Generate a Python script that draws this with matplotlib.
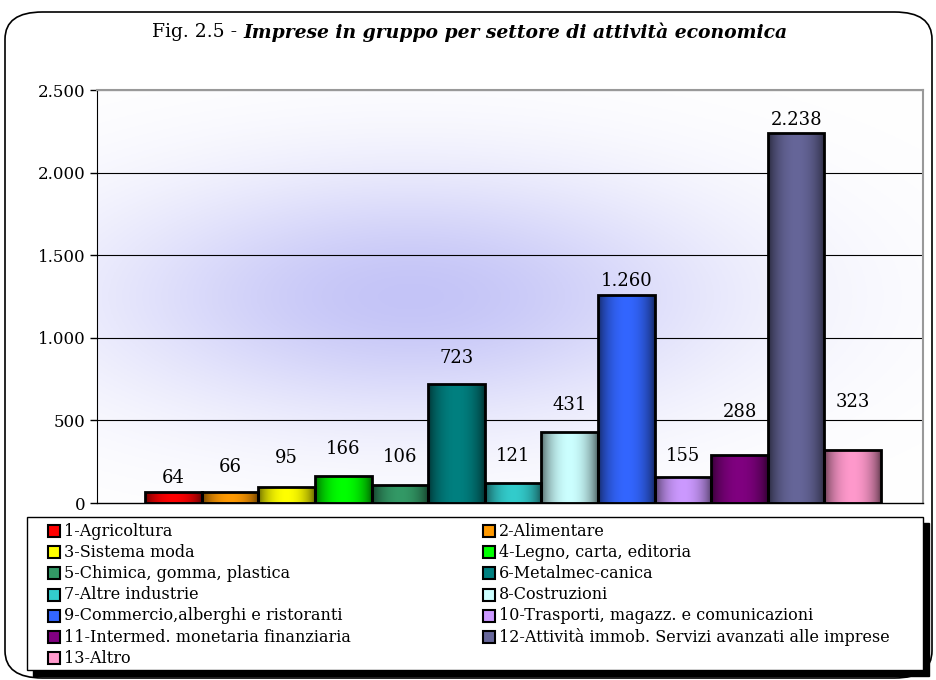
import numpy as np
import matplotlib
matplotlib.use("Agg")
from matplotlib import pyplot as plt
from matplotlib.patches import Rectangle, FancyBboxPatch

sectors = ['1-Agricoltura', '2-Alimentare', '3-Sistema moda', '4-Legno, carta, editoria',
           '5-Chimica, gomma, plastica', '6-Metalmec-canica', '7-Altre industrie',
           '8-Costruzioni', '9-Commercio,alberghi e ristoranti',
           '10-Trasporti, magazz. e comunicazioni', '11-Intermed. monetaria finanziaria',
           '12-Attività immob. Servizi avanzati alle imprese', '13-Altro']
values = [64, 66, 95, 166, 106, 723, 121, 431, 1260, 155, 288, 2238, 323]
colors = ['#FF0000', '#FF9900', '#FFFF00', '#00FF00', '#339966', '#008080', '#33CCCC',
          '#CCFFFF', '#3366FF', '#CC99FF', '#800080', '#666699', '#FF99CC']
yticks = [0, 500, 1000, 1500, 2000, 2500]
# label offset above bar top (pixels), as excel put them
lab_off = [14, 25, 29, 27, 28, 26, 27, 27, 14, 21, 43, 13, 48]

plt.rcParams['font.family'] = ['DejaVu Serif']

W, H = 936, 680
fig = plt.figure(figsize=(9.36, 6.8), dpi=100)
ax = fig.add_axes([97/W, 1-503/H, 826/W, 413/H])

def fx(px):
    return px/W

def fy(py):
    return 1 - py/H

# rounded frame around everything
frame = FancyBboxPatch((fx(5), fy(678)), fx(927), 666/H, boxstyle="round,pad=0,rounding_size=0.04",
                       transform=fig.transFigure, fill=False, edgecolor='black', lw=1.2)
fig.patches.append(frame)

# title: plain part + bold italic part, centred together
t1 = fig.text(0, fy(32), 'Fig. 2.5 - ', ha='left', va='center', fontsize=13.5)
t2 = fig.text(0, fy(32), 'Imprese in gruppo per settore di attività economica', ha='left',
              va='center', fontsize=13.5, fontweight='bold', style='italic')
r = fig.canvas.get_renderer()
w1 = t1.get_window_extent(r).width
w2 = t2.get_window_extent(r).width
x0 = 470 - (w1 + w2)/2
t1.set_x(fx(x0))
t2.set_x(fx(x0 + w1))

x = np.arange(len(values))
xl = (-1.35, 13.24)

# background glow
gx, gy = np.meshgrid(np.linspace(0, 1, 300), np.linspace(0, 1, 200))
g = np.exp(-((gx-0.38)/0.38)**2 - ((gy-0.5)/0.3)**2)
bg = np.ones((200, 300, 3))
bg[..., 0] = 1 - g*0.23
bg[..., 1] = 1 - g*0.23
bg[..., 2] = 1 - g*0.03
ax.imshow(bg, extent=(xl[0], xl[1], 0, 2500), origin='lower', aspect='auto', zorder=0)

for v in yticks[1:]:
    ax.axhline(v, color='black', lw=0.8, zorder=1)

t = np.linspace(0, 1, 60)
prof = 0.35 + 0.65*np.sin(np.pi*t)**0.6
for i, v in enumerate(values):
    c = np.array(matplotlib.colors.to_rgb(colors[i]))
    grad = (prof[:, None]*c[None, :])[None, :, :]
    im = ax.imshow(grad, extent=(i-0.5, i+0.5, 0, v), aspect='auto', zorder=2)
    rect = Rectangle((i-0.5, 0), 1, v, fill=False, edgecolor='black', lw=2, zorder=3)
    ax.add_patch(rect)
    im.set_clip_path(rect)
    ax.annotate(f'{v:,}'.replace(',', '.'), (i, v), xytext=(0, lab_off[i]/1.389),
                textcoords='offset points', ha='center', va='center', fontsize=13, zorder=4)

ax.set_xlim(*xl)
ax.set_ylim(0, 2500)
ax.set_xticks([])
ax.set_yticks(yticks)
ax.set_yticklabels([f'{v:,}'.replace(',', '.') for v in yticks], fontsize=12)
ax.tick_params(axis='y', direction='out', length=5, width=1)
for s in ['top', 'right']:
    ax.spines[s].set_color('#999999')
    ax.spines[s].set_linewidth(1.5)
ax.spines['bottom'].set_visible(False)
ax.axhline(0, color='black', lw=1, zorder=5, clip_on=False)

# legend box, drawn by hand (two columns, rows read across)
lx0, ly0, lx1, ly1 = 27, 517, 923, 670
fig.patches.append(Rectangle((fx(lx0+6), fy(ly1+6)), fx(lx1-lx0), (ly1-ly0)/H,
                             transform=fig.transFigure, facecolor='black', edgecolor='black'))
fig.patches.append(Rectangle((fx(lx0), fy(ly1)), fx(lx1-lx0), (ly1-ly0)/H,
                             transform=fig.transFigure, facecolor='white', edgecolor='black', lw=1))
colx = [48, 483]
for i, name in enumerate(sectors):
    cx = colx[i % 2]
    cy = 531 + 21.2*(i//2)
    fig.patches.append(Rectangle((fx(cx), fy(cy+6)), fx(12), 12/H, transform=fig.transFigure,
                                 facecolor=colors[i], edgecolor='black', lw=1.5))
    fig.text(fx(cx+16), fy(cy), name, ha='left', va='center', fontsize=11.5)

fig.savefig('out.png', dpi=100)
